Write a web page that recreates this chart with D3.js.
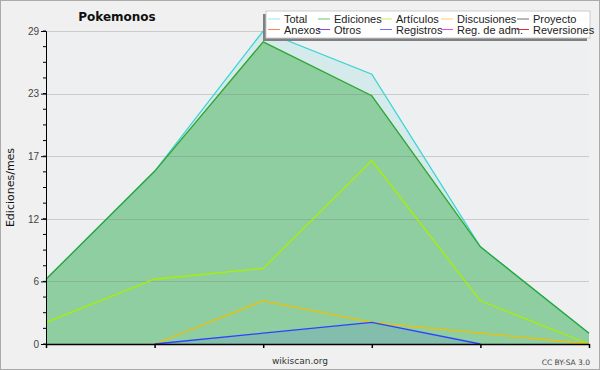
<!DOCTYPE html>
<html>
<head>
<meta charset="utf-8">
<script src="https://cdn.jsdelivr.net/npm/d3@7"></script>
<style>
  body { margin: 0; background: #f0f0f0; }
  svg { display: block; font-family: "DejaVu Sans", sans-serif; }
</style>
</head>
<body>
<div id="chart"></div>
<script>
// ===== DATA =====
const months = [0, 1, 2, 3, 4, 5];
const total = [6, 16, 29, 25, 9, 1];
const ediciones = [6, 16, 28, 23, 9, 1];
const articulos = [2, 6, 7, 17, 4, 0];
const discusiones = [null, 0, 4, 2, 1, 0];
const registros = [null, 0, 1, 2, 0, null];

const legendRow1 = ["Total", "Ediciones", "Artículos", "Discusiones", "Proyecto"];
const legendRow2 = ["Anexos", "Otros", "Registros", "Reg. de adm.", "Reversiones"];
const legendColors1 = ["#9fe3e3", "#6cc46c", "#c8f060", "#ffd060", "#707070"];
const legendColors2 = ["#ff8050", "#9040e0", "#7070ff", "#e050e0", "#e03030"];

const width = 600;
const height = 370;
const margin = { top: 31, right: 10, bottom: 26, left: 46 };

const svg = d3.select("#chart").append("svg")
  .attr("width", width)
  .attr("height", height);

// fondo
svg.append("rect")
  .attr("x", 0.5).attr("y", 0.5)
  .attr("width", width - 1).attr("height", height - 1)
  .attr("fill", "#f0f0f0")
  .attr("stroke", "#aaa");

const x = d3.scaleLinear()
  .domain([0, months.length - 1])
  .range([margin.left, width - margin.right - 1]);

const yMax = 29;
const y = d3.scaleLinear()
  .domain([0, yMax])
  .range([height - margin.bottom, margin.top]);

// area del grafico
svg.append("rect")
  .attr("x", margin.left).attr("y", margin.top)
  .attr("width", x.range()[1] - margin.left)
  .attr("height", y(0) - margin.top)
  .attr("fill", "#eeeff1");

const majorTicks = d3.range(0, 6).map(i => i * yMax / 5);
const minorTicks = d3.range(0, 21).map(i => i * yMax / 20);

// ===== AREAS =====
const area = d3.area()
  .defined(d => d != null)
  .x((d, i) => x(i))
  .y0(y(0))
  .y1(d => y(d));

const line = d3.line()
  .defined(d => d != null)
  .x((d, i) => x(i))
  .y(d => y(d));

svg.append("path").attr("d", area(total))
  .attr("fill", "rgba(64,208,200,0.15)");
svg.append("path").attr("d", area(ediciones))
  .attr("fill", "rgba(60,172,70,0.45)");
svg.append("path").attr("d", area(registros))
  .attr("fill", "rgba(48,64,255,0.12)");

// grid
svg.append("g").selectAll("line")
  .data(majorTicks.slice(1))
  .join("line")
  .attr("x1", margin.left).attr("x2", x.range()[1])
  .attr("y1", d => Math.round(y(d)) + 0.5).attr("y2", d => Math.round(y(d)) + 0.5)
  .attr("stroke", "rgba(120,120,120,0.3)");

// ===== LINEAS =====
const series = [
  { values: total, color: "#3cd4d4" },
  { values: ediciones, color: "#30a530" },
  { values: articulos, color: "#a8f000" },
  { values: discusiones, color: "#f0c000" },
  { values: registros, color: "#3040ff" }
];

series.forEach(s => {
  svg.append("path")
    .attr("d", line(s.values))
    .attr("fill", "none")
    .attr("stroke", s.color)
    .attr("stroke-width", 1.3);
});

// ===== EJES =====
const yAxis = d3.axisLeft(y)
  .tickValues(majorTicks)
  .tickFormat(d => Math.round(d))
  .tickSize(5)
  .tickPadding(2);

const yg = svg.append("g")
  .attr("transform", `translate(${margin.left},0)`)
  .call(yAxis);
yg.select(".domain").attr("stroke", "#000");
yg.selectAll("text").attr("font-size", 10).attr("fill", "#444");

svg.append("g").selectAll("line")
  .data(minorTicks)
  .join("line")
  .attr("x1", margin.left - 3).attr("x2", margin.left)
  .attr("y1", d => y(d)).attr("y2", d => y(d))
  .attr("stroke", "#000");

const xAxis = d3.axisBottom(x)
  .tickValues(months)
  .tickFormat("")
  .tickSize(4)
  .tickSizeOuter(0);

const xg = svg.append("g")
  .attr("transform", `translate(0,${y(0)})`)
  .call(xAxis);
xg.select(".domain").attr("stroke", "#000").attr("stroke-width", 1.5);
xg.selectAll("line").attr("stroke-width", 1.5);

// ===== TEXTOS =====
svg.append("text")
  .attr("x", 117).attr("y", 21)
  .attr("text-anchor", "middle")
  .attr("font-size", 12).attr("font-weight", "bold")
  .attr("fill", "#111")
  .text("Pokemonos");

svg.append("text")
  .attr("transform", `translate(14,${y(yMax / 2)}) rotate(-90)`)
  .attr("text-anchor", "middle")
  .attr("font-size", 11)
  .attr("fill", "#111")
  .text("Ediciones/mes");

svg.append("text")
  .attr("x", 300).attr("y", 364)
  .attr("text-anchor", "middle")
  .attr("font-size", 9)
  .attr("fill", "#333")
  .text("wikiscan.org");

svg.append("text")
  .attr("x", 590).attr("y", 365)
  .attr("text-anchor", "end")
  .attr("font-size", 7.5)
  .attr("fill", "#444")
  .text("CC BY-SA 3.0");

// ===== LEYENDA =====
const lg = svg.append("g").style("font-family", "'Liberation Sans', Arial, sans-serif");
lg.append("rect")
  .attr("x", 263).attr("y", 14)
  .attr("width", 324).attr("height", 27)
  .attr("fill", "#808080");
lg.append("rect")
  .attr("x", 266).attr("y", 11)
  .attr("width", 324).attr("height", 27)
  .attr("fill", "#fff")
  .attr("stroke", "#ccc");

const colX = [268, 318, 380, 441, 517];

[[legendRow1, legendColors1, 19], [legendRow2, legendColors2, 29.5]].forEach(([names, colors, ry]) => {
  names.forEach((name, i) => {
    lg.append("line")
      .attr("x1", colX[i]).attr("x2", colX[i] + 12)
      .attr("y1", ry).attr("y2", ry)
      .attr("stroke", colors[i]);
    lg.append("text")
      .attr("x", colX[i] + 16).attr("y", ry + 4)
      .attr("font-size", 11)
      .attr("fill", "#222")
      .text(name);
  });
});
</script>
</body>
</html>
